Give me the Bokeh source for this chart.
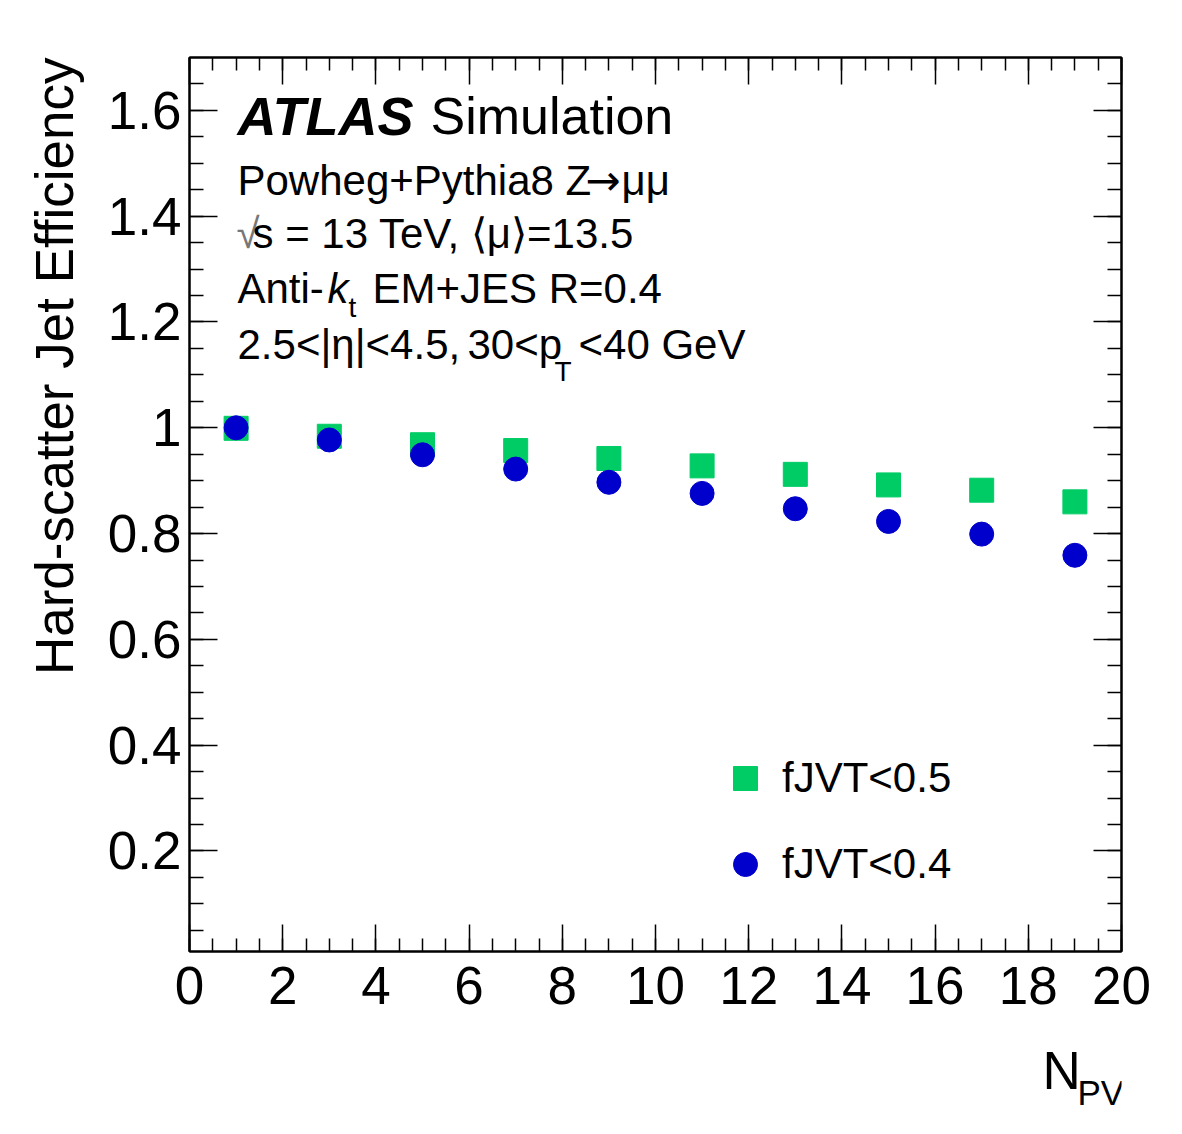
from bokeh.plotting import figure
from bokeh.layouts import column
from bokeh.models import (Range1d, LinearAxis, SingleIntervalTicker, CustomJSTickFormatter,
                          Label, Legend, LegendItem, Title)
from bokeh.embed import file_html
from bokeh.resources import INLINE

# Hard-scatter jet efficiency vs number of primary vertices
n_pv = [1, 3, 5, 7, 9, 11, 13, 15, 17, 19]
eff_fjvt05 = [0.999, 0.984, 0.968, 0.957, 0.942, 0.928, 0.912, 0.892, 0.882, 0.860]
eff_fjvt04 = [1.000, 0.977, 0.949, 0.922, 0.897, 0.876, 0.847, 0.823, 0.799, 0.759]
series_labels = ["fJVT<0.5", "fJVT<0.4"]

FONT = "Liberation Sans"
W = 1182
H_MAIN, H_XT = 1030, 104                   # main panel and x-title strip
BL, BR, BT, BB = 189, 61, 57, 79           # space around the frame
X_LO, X_HI = 0.0, 20.0
Y_LO, Y_HI = 0.01, 1.7
BASE_SHIFT = 0.37                          # baseline correction, in em

p = figure(width=W, height=H_MAIN, x_range=Range1d(X_LO, X_HI), y_range=Range1d(Y_LO, Y_HI),
           x_axis_type=None, y_axis_type=None, output_backend="svg", toolbar_location=None,
           min_border_left=BL, min_border_right=BR, min_border_top=BT, min_border_bottom=BB)
p.grid.visible = False
p.outline_line_color = "black"
p.outline_line_width = 2
p.background_fill_color = "white"
p.border_fill_color = "white"


def style_axis(ax, major_len, minor_len, labels):
    ax.axis_line_color = "black"
    ax.axis_line_width = 2
    ax.major_tick_in = major_len
    ax.major_tick_out = 0
    ax.minor_tick_in = minor_len
    ax.minor_tick_out = 0
    ax.major_tick_line_color = "black"
    ax.minor_tick_line_color = "black"
    ax.major_tick_line_width = 1.5
    ax.minor_tick_line_width = 1.5
    if labels:
        ax.major_label_text_font = FONT
        ax.major_label_text_font_size = "53px"
        ax.major_label_text_color = "black"
    else:
        ax.major_label_text_font_size = "0px"
        ax.formatter = CustomJSTickFormatter(code="return ''")


y_fmt = CustomJSTickFormatter(code="""
    const s = tick.toFixed(1);
    return s.endsWith('.0') ? s.slice(0, -2) : s;
""")

xb = LinearAxis(ticker=SingleIntervalTicker(interval=2, num_minor_ticks=4))
style_axis(xb, 27, 13, True)
xb.major_label_standoff = 15
p.add_layout(xb, "below")

xt = LinearAxis(ticker=SingleIntervalTicker(interval=2, num_minor_ticks=4))
style_axis(xt, 27, 13, False)
p.add_layout(xt, "above")

yl = LinearAxis(ticker=SingleIntervalTicker(interval=0.2, num_minor_ticks=4), formatter=y_fmt)
style_axis(yl, 28, 14, True)
yl.major_label_standoff = 8
p.add_layout(yl, "left")

yr = LinearAxis(ticker=SingleIntervalTicker(interval=0.2, num_minor_ticks=4))
style_axis(yr, 28, 14, False)
p.add_layout(yr, "right")

# y-axis title, flush with the top of the frame
p.add_layout(Title(text="Hard-scatter Jet Efficiency", align="right", text_font=FONT,
                   text_font_size="53px", text_font_style="normal", text_color="black",
                   standoff=42), "left")

# markers
GREEN = "#00cc66"
BLUE = "#0000cc"
r05 = p.scatter(n_pv, eff_fjvt05, marker="square", size=24, fill_color=GREEN, line_color=GREEN)
r04 = p.scatter(n_pv, eff_fjvt04, marker="circle", size=24, fill_color=BLUE, line_color=BLUE)

legend = Legend(items=[LegendItem(label=series_labels[0], renderers=[r05]),
                       LegendItem(label=series_labels[1], renderers=[r04])],
                location=(526, 57), glyph_width=60, glyph_height=60, label_height=60,
                spacing=26, padding=0, margin=0, label_standoff=7,
                label_text_font=FONT, label_text_font_size="42px", label_text_color="black",
                background_fill_alpha=0, border_line_color=None)
p.add_layout(legend)


def put(fig, text, px, py, size, style="normal", color="black", align="left", font=FONT):
    """Place a text on a figure's canvas; px, py is the baseline anchor from top-left."""
    fig.add_layout(Label(x=px, y=py - BASE_SHIFT * size, x_units="canvas", y_units="canvas",
                         text=text, text_font=font, text_font_size=f"{size}px",
                         text_font_style=style, text_color=color, text_align=align,
                         text_baseline="alphabetic"))


# header block
put(p, "ATLAS", 237, 135, 54, style="bold italic")
put(p, "Simulation", 430, 135, 52)
put(p, "Powheg+Pythia8 Z", 237, 196, 42)
put(p, "\u2192", 585, 196, 42, font="DejaVu Sans")
put(p, "\u03bc\u03bc", 621, 196, 42)
put(p, "\u221a", 236, 249, 42, color="#777777")
put(p, "s = 13 TeV, \u27e8\u03bc\u27e9=13.5", 252, 249, 42)
put(p, "Anti-", 237, 304, 42)
put(p, "k", 327, 304, 42, style="italic")
put(p, "t", 348, 317, 28)
put(p, "EM+JES R=0.4", 372, 304, 42)
put(p, "2.5<|\u03b7|<4.5,", 237, 360, 42)
put(p, "30<p", 467, 360, 42)
put(p, "T", 554, 381, 28)
put(p, "<40 GeV", 578, 360, 42)

# x-axis title strip under the main panel
px_title = figure(width=W, height=H_XT, x_range=Range1d(0, 1), y_range=Range1d(0, 1),
                  x_axis_type=None, y_axis_type=None, output_backend="svg",
                  toolbar_location=None, min_border=0)
px_title.grid.visible = False
px_title.outline_line_color = None
px_title.background_fill_color = "white"
px_title.border_fill_color = "white"
put(px_title, "N", 1042, 1090 - H_MAIN, 53)
put(px_title, "PV", 1077, 1105 - H_MAIN, 35)

page = column(p, px_title, spacing=0)
open("out.html", "w").write(file_html(page, INLINE))
